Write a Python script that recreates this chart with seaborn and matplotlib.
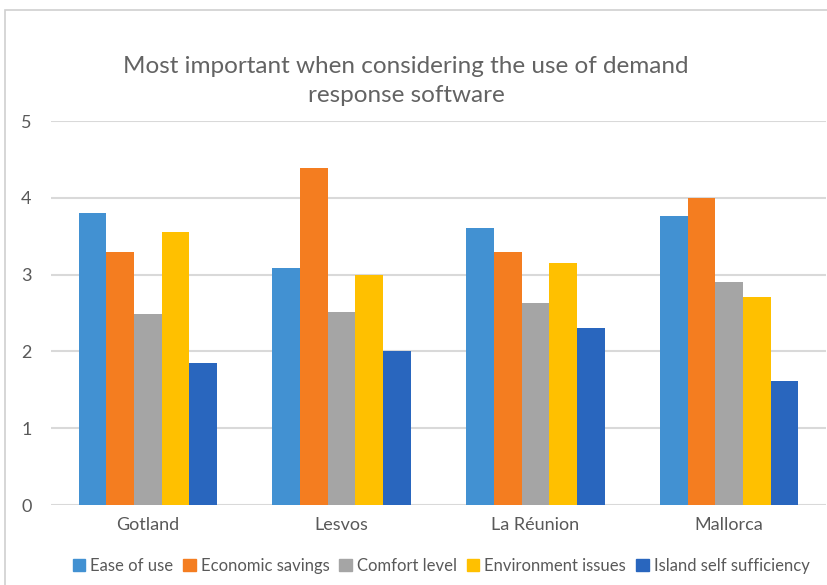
import numpy as np
import pandas as pd
import matplotlib.pyplot as plt
import matplotlib.patches as mpatches
import seaborn as sns

islands = ['Gotland', 'Lesvos', 'La Réunion', 'Mallorca']
factors = ['Ease of use', 'Economic savings', 'Comfort level',
           'Environment issues', 'Island self sufficiency']
ease_of_use = [3.80, 3.09, 3.61, 3.76]
economic_savings = [3.30, 4.39, 3.30, 4.00]
comfort_level = [2.49, 2.51, 2.63, 2.90]
environment_issues = [3.55, 3.00, 3.15, 2.71]
self_sufficiency = [1.85, 2.00, 2.30, 1.61]
colors = ['#4291D2', '#F47D20', '#A5A5A5', '#FFC000', '#2966BE']

series = [ease_of_use, economic_savings, comfort_level, environment_issues, self_sufficiency]
rows = []
for f, vals in zip(factors, series):
    for isl, v in zip(islands, vals):
        rows.append({'island': isl, 'factor': f, 'score': v})
df = pd.DataFrame(rows)

sns.set_style('white')
plt.rcParams['font.family'] = ['Lato', 'DejaVu Sans']
text_col = '#595959'

fig = plt.figure(figsize=(8.27, 5.85), dpi=100)
W, H = 827, 585
ax = fig.add_axes([51 / W, 1 - 505 / H, (826 - 51) / W, (505 - 121) / H])

sns.barplot(data=df, x='island', y='score', hue='factor', palette=colors,
            saturation=1, width=0.714, gap=0, ax=ax, legend=False,
            edgecolor='none', zorder=3)

ax.set_ylim(0, 5)
ax.set_xlim(-0.5, 3.5)
ax.set_yticks(range(6))
ax.yaxis.grid(True, color='#D9D9D9', linewidth=1.5, zorder=0)
ax.set_axisbelow(True)
for s in ax.spines.values():
    s.set_visible(False)
ax.tick_params(axis='both', length=0, labelsize=13, labelcolor=text_col)
ax.tick_params(axis='y', pad=14)
ax.tick_params(axis='x', pad=9)
ax.set_xlabel('')
ax.set_ylabel('')

fig.text(406 / W, 1 - 81 / H,
         'Most important when considering the use of demand\nresponse software',
         ha='center', va='center', fontsize=17.5, color='#636363',
         linespacing=1.45)

handles = [mpatches.Patch(color=c, label=f) for c, f in zip(colors, factors)]
fig.legend(handles=handles, loc='center', bbox_to_anchor=(441 / W, 1 - 566 / H),
           ncol=5, frameon=False, fontsize=12, handlelength=0.75, handleheight=0.75,
           handletextpad=0.3, columnspacing=0.6, labelcolor=text_col)

fig.patches.append(mpatches.Rectangle((5 / W, -0.1), 1.2, 1 - 10 / H + 0.1,
                                      transform=fig.transFigure, fill=False,
                                      edgecolor='#D0D0D0', linewidth=1.2))

fig.savefig('out.png', dpi=100)
